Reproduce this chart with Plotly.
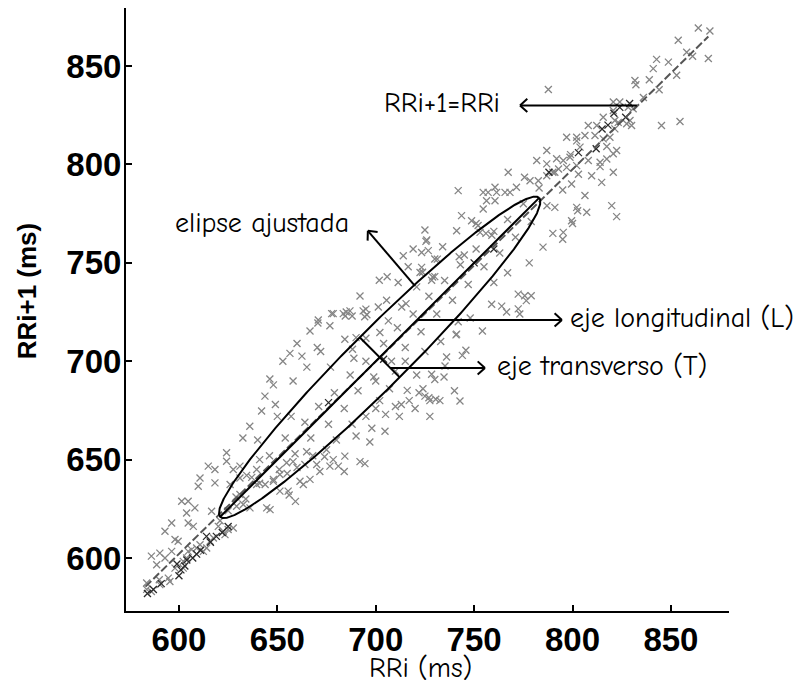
import numpy as np
import plotly.graph_objects as go

# ---- Poincaré scatter: RR interval i (x) against RR interval i+1 (y), in ms ----
# light grey crosses
rri_gray = [
    # lower-left cluster
    583.6, 586, 583.6, 586, 590.3, 588.7, 592.9, 596.3, 598, 602.2,
    601.4, 604.7, 603.9, 608.1, 604.7, 607.3, 609.8, 610.7, 614.9, 618.3,
    618.3, 616.6, 624.2, 624.2, 631, 631, 599.6, 609, 612.4, 614.1,
    610.7, 615.8, 617.5, 602.2, 598, 595.4, 594.6, 590.3, 590, 604.7,
    606.4, 603.9, 596.3, 592.9, 620, 622.5, 625, 623.4, 620.9, 627.6,
    629.3, 631, 636.1, 632.7, 644.6, 646.3, 639.5, 643.8, 648, 651.3,
    654.7, 658, 663.2, 664, 664.9, 670, 678.4, 681, 674, 655.5,
    656, 634.4, 639.5, 626, 627.6,
    # band above the identity line
    632.5, 636, 642, 643.7, 646.2, 648, 652.8, 656.4, 660, 662.5,
    666.6, 670.6, 670.8, 670.3, 678.4, 685, 684.5, 688, 695, 695.5,
    677.6, 683.5, 694.4, 676.7, 686.9, 693.6, 692, 701.3, 705.5, 701.8,
    705.8, 711.4, 720.8, 713.2, 715.4, 706.4, 684.3, 695, 688.2, 688.9,
    702.1, 640, 650, 658, 665, 672, 649, 641, 657, 677,
    690,
    # band below the identity line
    707, 702, 710, 717, 722, 704.7, 697, 684.3, 676.7, 671.6,
    666.6, 661.5, 651.3, 659.2, 684, 692, 712, 720, 727.5, 732.6,
    740, 742.8, 727.5, 694.5, 720.8, 728.4, 734.7, 730, 716, 724,
    727, 730.5, 725, 735.2, 736, 744, 745.8, 740.8, 741.9, 741.1,
    754.2, 758.9, 764, 766.5, 772.4, 773.2, 772.4, 775.7, 779, 776.5,
    680, 688, 695, 700, 705, 713, 690, 698, 675, 668,
    660, 655, 648, 700, 710, 715, 725, 733, 748, 760,
    767, 778, 785, 790, 795, 800,
    # upper part of the cloud
    725, 725.5, 714, 719, 723.3, 726.7, 734, 716.5, 723.3, 723.8,
    728.9, 730, 731.3, 742.4, 745, 722.5, 728.4, 730, 741.9, 743.6,
    748.7, 741.1, 751, 752, 760, 756, 753, 725.9, 754.6, 757.1,
    761.4, 765.7, 768.2, 760.6, 756.3, 760.6, 754.6, 771.5, 767.3, 775.6,
    778.4, 782.6, 786.9, 787.7, 781.8, 786.9, 786.9, 791.9, 795.3, 798.7,
    797, 802.1, 802.1, 803.8, 806.3, 811.4, 815.6, 819, 812.3, 808,
    815.6, 820.7, 824, 820.7, 830.8, 828.3, 821.5, 823.2, 829.2, 830,
    827.5, 821.5, 817.4, 822.4, 820.7, 817.4, 808, 814, 814, 802.1,
    797, 792.9, 790, 809.7, 820.7, 799.5, 814.8, 806.3, 802.1, 802.6,
    807.2, 819.9, 822.4, 799.5, 795.3, 791, 831.7, 832.2, 845.2, 854.6,
    869, 852.9, 841, 842.7, 848.7, 863.9, 869.8, 853.7,
    # along the identity line
    625, 629, 634, 637, 641, 646, 651, 654, 659, 664,
    667, 671, 676, 679, 684, 687, 691, 695, 699, 704,
    708, 711, 715, 719, 723, 727, 731, 735, 739, 743,
    747, 751, 755, 759, 763, 767, 771, 775, 779, 783,
    787, 791, 795, 799, 803, 836, 839, 844, 858, 861,
]
rri1_gray = [
    # lower-left cluster
    584.1, 583, 587.3, 601, 602.5, 596.6, 613.6, 617.8, 609.4, 598.3,
    628.9, 628.9, 622.9, 625.5, 617.8, 616.1, 636.5, 640.7, 646.7, 638.2,
    645, 623.8, 649.2, 653.5, 646.7, 640.7, 608.5, 605.1, 603.4, 605.1,
    606.8, 608.5, 610.2, 594.9, 594.9, 588.1, 589.8, 586.5, 589, 603.4,
    604.3, 600, 603.4, 600, 616.1, 613.6, 614.5, 611.9, 619, 615.3,
    626.3, 632.3, 625.5, 627.2, 625.5, 624.6, 637.4, 637.4, 639, 642.5,
    648.4, 649, 637.4, 647.5, 654, 647.5, 650, 646.7, 651.5, 634,
    632, 642, 645, 637.4, 645,
    # band above the identity line
    661, 667, 674.7, 682.3, 691, 688, 700, 704, 709, 702.6,
    715.4, 719.4, 721, 707, 724.2, 725, 723, 723, 726.5, 723.6,
    724.2, 724.2, 722.6, 718, 725.6, 725.6, 733.2, 727.6, 731, 741.2,
    742.9, 740, 737.8, 727.6, 729.3, 720.5, 711.2, 711.7, 706.1, 701.5,
    714.6, 660, 672, 690, 697, 705, 678, 650, 672, 697,
    712,
    # band below the identity line
    686, 680, 677, 680, 684, 664.4, 659, 651.8, 646.7, 644,
    640, 639, 634, 628.8, 644, 649, 672, 676, 680, 680,
    685, 679.8, 672, 648, 693, 693.4, 692, 690.7, 685.2, 686,
    681.5, 680.7, 682.3, 697.6, 702.2, 703, 705.6, 713.4, 720.1, 713.8,
    715.4, 729, 728, 725, 726.6, 724, 734.1, 733.3, 733.3, 730.8,
    660, 668, 672, 676, 673, 678, 662, 666, 655, 652,
    646, 643, 640, 690, 695, 700, 705, 710, 722, 740,
    745, 750, 758, 765, 762, 770,
    # upper part of the cloud
    766.7, 760.9, 753.6, 757, 755.3, 756.2, 758.2, 748, 747.7, 745.2,
    742.8, 752, 751.9, 753.1, 754, 745.1, 741.2, 743, 786.7, 774,
    771.4, 766.3, 770, 769, 766, 765, 765.5, 761.6, 785.8, 785.8,
    785.8, 785.8, 785.8, 788.4, 781.6, 781.6, 777.4, 788.4, 796, 793.5,
    791.7, 791.7, 794.3, 838.1, 802, 807.1, 800.3, 802.9, 802, 803.7,
    813.8, 813.8, 812, 808.8, 814.7, 814.7, 813, 813.8, 819.8, 819.8,
    824, 831.7, 831.7, 827.4, 828.3, 829.1, 822.3, 821.4, 822.3, 819.8,
    820.7, 818.1, 809.1, 807.1, 805.4, 802.8, 802, 801.1, 798.9, 799.4,
    798.5, 797.7, 796, 794.3, 796, 790.1, 790.9, 784.2, 778.2, 776.5,
    775.7, 779.1, 773.5, 771.4, 765.5, 778.2, 842.7, 840.5, 819.8, 821.8,
    853.8, 845.3, 848.7, 853.4, 852, 869.3, 867.8, 863.1,
    # along the identity line
    624, 631, 630, 641, 638, 652, 645, 661, 653, 669,
    661, 677, 668, 684, 676, 693, 685, 700, 692, 709,
    700, 717, 707, 724, 715, 733, 724, 741, 731, 749,
    739, 757, 748, 764, 755, 772, 763, 780, 771, 788,
    779, 796, 787, 805, 795, 834, 843, 838, 857, 855,
]

# darker crosses (overlapping beats)
rri_dark = [584, 587, 591, 599, 601, 604, 607, 611, 616, 619,
            622, 625, 600, 603, 614, 609, 676, 704, 760, 788,
            812, 818, 821, 824, 827, 829, 815, 803, 750]
rri1_dark = [582, 584, 587, 597, 594, 599, 600, 604, 608, 611,
             613, 616, 591, 596, 611, 602, 679, 701, 757, 796,
             808, 820, 826, 829, 824, 831, 818, 806, 750]

# identity line RRi+1 = RRi (dashed)
identity_x = [583.0, 869.0]
identity_y = [585.5, 865.0]

# fitted ellipse (SD1 / SD2 style), rotated 45 degrees
ellipse_cx, ellipse_cy = 702.0, 702.0
semi_long = 114.6
semi_trans = 14.4

axis_range = [573.1, 879.5]
tick_vals = [600, 650, 700, 750, 800, 850]

# annotations: text, anchor and arrow from a point on the figure to the label
labels = ["RRi+1=RRi", "elipse ajustada", "eje longitudinal (L)", "eje transverso (T)"]
label_x = [764.0, 596.9, 797.7, 760.6]
label_y = [831.0, 770.4, 722.0, 697.6]
label_anchor = ["right", "left", "left", "left"]
arrow_from_x = [832.7, 719.9, 721.4, 707.2]
arrow_from_y = [830.0, 738.3, 721.0, 696.6]
arrow_to_x = [773.3, 696.0, 794.6, 755.5]
arrow_to_y = [830.0, 766.3, 721.0, 696.6]

hand_font = "Comic Sans MS, Comic Neue, Noto Sans, sans-serif"

fig = go.Figure()

fig.add_trace(go.Scatter(
    x=rri_gray, y=rri1_gray, mode="markers",
    marker=dict(symbol="x-thin", size=7, color="#858585",
                line=dict(width=1.3, color="#858585")),
    hoverinfo="skip"))
fig.add_trace(go.Scatter(
    x=rri_dark, y=rri1_dark, mode="markers",
    marker=dict(symbol="x-thin", size=7, color="#2a2a2a",
                line=dict(width=1.3, color="#2a2a2a")),
    hoverinfo="skip"))

fig.add_trace(go.Scatter(
    x=identity_x, y=identity_y, mode="lines",
    line=dict(color="#555555", width=2, dash="8px,3px"), hoverinfo="skip"))

# ellipse outline and its two axes
t = np.linspace(0, 2 * np.pi, 721)
u = np.array([1.0, 1.0]) / np.sqrt(2)
v = np.array([-1.0, 1.0]) / np.sqrt(2)
ex = ellipse_cx + semi_long * np.cos(t) * u[0] + semi_trans * np.sin(t) * v[0]
ey = ellipse_cy + semi_long * np.cos(t) * u[1] + semi_trans * np.sin(t) * v[1]
fig.add_trace(go.Scatter(x=ex, y=ey, mode="lines",
                         line=dict(color="black", width=2), hoverinfo="skip"))

long_x = [ellipse_cx - semi_long * u[0], ellipse_cx + semi_long * u[0]]
long_y = [ellipse_cy - semi_long * u[1], ellipse_cy + semi_long * u[1]]
trans_x = [ellipse_cx - semi_trans * v[0], ellipse_cx + semi_trans * v[0]]
trans_y = [ellipse_cy - semi_trans * v[1], ellipse_cy + semi_trans * v[1]]
fig.add_trace(go.Scatter(x=long_x + [None] + trans_x, y=long_y + [None] + trans_y,
                         mode="lines", line=dict(color="black", width=2),
                         hoverinfo="skip"))

# arrows with open chevron heads
head_len = 5.0
head_ang = np.deg2rad(42)
ax_pts, ay_pts = [], []
for x0, y0, x1, y1 in zip(arrow_from_x, arrow_from_y, arrow_to_x, arrow_to_y):
    d = np.array([x1 - x0, y1 - y0])
    d = d / np.linalg.norm(d)
    ax_pts += [x0, x1, None]
    ay_pts += [y0, y1, None]
    for s in (1, -1):
        c, sn = np.cos(s * head_ang), np.sin(s * head_ang)
        r = np.array([c * d[0] - sn * d[1], sn * d[0] + c * d[1]])
        ax_pts += [x1, x1 - head_len * r[0], None]
        ay_pts += [y1, y1 - head_len * r[1], None]
fig.add_trace(go.Scatter(x=ax_pts, y=ay_pts, mode="lines",
                         line=dict(color="black", width=2), hoverinfo="skip"))

for txt, lx, ly, anc in zip(labels, label_x, label_y, label_anchor):
    fig.add_annotation(x=lx, y=ly, xref="x", yref="y", text=txt, showarrow=False,
                       xanchor=anc, yanchor="middle",
                       font=dict(family=hand_font, size=28, color="black"))

# axis titles
fig.add_annotation(x=0.489, y=-0.094, xref="paper", yref="paper", text="RRi (ms)",
                   showarrow=False, xanchor="center", yanchor="middle",
                   font=dict(family=hand_font, size=28, color="black"))
fig.add_annotation(x=-0.165, y=0.531, xref="paper", yref="paper", text="RRi+1 (ms)",
                   showarrow=False, xanchor="center", yanchor="middle", textangle=-90,
                   font=dict(family="Liberation Sans, Arial, sans-serif", size=26,
                             color="black", weight="bold"))

axis_style = dict(
    range=axis_range, tickvals=tick_vals, showgrid=False, zeroline=False,
    showline=True, linecolor="black", linewidth=2,
    ticks="inside", ticklen=6, tickwidth=2, tickcolor="black",
    tickfont=dict(family="Liberation Sans, Arial, sans-serif", size=33,
                  color="black", weight="bold"),
)
fig.update_xaxes(**axis_style, ticklabelstandoff=-2)
fig.update_yaxes(**axis_style, ticklabelstandoff=-4)

fig.update_layout(
    width=794, height=683, margin=dict(l=126, r=65, t=8, b=72),
    plot_bgcolor="white", paper_bgcolor="white", showlegend=False,
)

fig.write_html("out.html")
